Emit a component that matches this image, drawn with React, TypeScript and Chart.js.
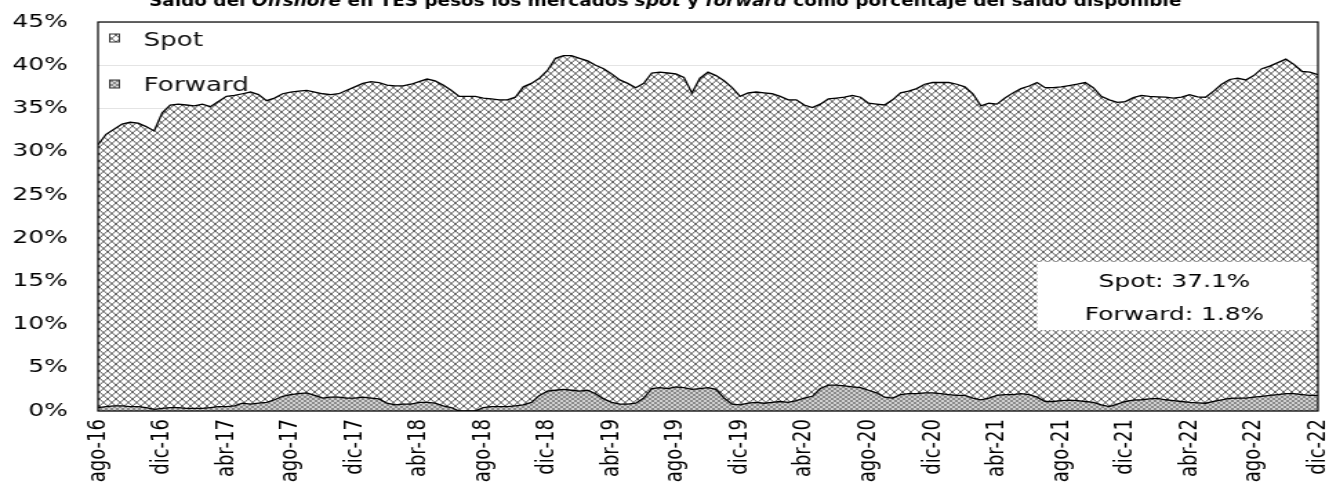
import React, { useEffect, useRef } from 'react';
import { Chart, registerables } from 'chart.js';

Chart.register(...registerables);

// Internal drawing width; the canvas is shown stretched to 1329 CSS px (like the reference)
const CANVAS_W = 963;
const CANVAS_H = 483;
const FONT = 'DejaVu Sans';

// Tick labels every 4 months, starting Aug-2016 (month 0) to Dec-2022 (month 76)
const xTickLabels = [
  'ago-16', 'dic-16', 'abr-17', 'ago-17', 'dic-17', 'abr-18', 'ago-18', 'dic-18', 'abr-19', 'ago-19',
  'dic-19', 'abr-20', 'ago-20', 'dic-20', 'abr-21', 'ago-21', 'dic-21', 'abr-22', 'ago-22', 'dic-22',
];

// Half-monthly observations (month 0, 0.5, 1, ... 76), % of available balance
const spotValues = [
  30.4, 31.5, 32.0, 32.6, 32.9, 32.8, 32.5, 32.2,
  34.2, 35.0, 35.1, 35.1, 35.0, 35.2, 34.8, 35.3,
  35.9, 35.9, 35.8, 36.1, 35.7, 34.9, 34.9, 35.0,
  35.0, 35.0, 35.0, 35.1, 35.2, 35.0, 35.1, 35.6,
  36.0, 36.3, 36.6, 36.6, 36.8, 36.9, 36.8, 37.0,
  37.1, 37.4, 37.3, 37.1, 36.7, 36.4, 36.4, 36.4,
  35.8, 35.6, 35.5, 35.5, 35.7, 36.8, 36.9, 36.7,
  37.1, 38.4, 38.6, 38.7, 38.5, 38.1, 38.0, 38.2,
  38.0, 37.5, 37.1, 36.5, 36.4, 36.5, 36.5, 36.5,
  36.2, 35.9, 34.3, 35.9, 36.5, 36.3, 36.7, 36.6,
  35.7, 35.9, 35.9, 35.9, 35.7, 35.3, 35.0, 34.8,
  33.9, 33.4, 32.9, 33.1, 33.2, 33.4, 33.7, 33.6,
  33.2, 33.4, 33.8, 34.5, 34.9, 35.0, 35.3, 35.7,
  35.9, 36.0, 36.1, 36.0, 35.7, 35.2, 34.0, 34.1,
  33.7, 34.3, 34.9, 35.3, 35.7, 36.4, 36.3, 36.3,
  36.3, 36.4, 36.6, 36.9, 36.4, 35.7, 35.5, 34.9,
  34.7, 35.0, 35.2, 35.0, 34.9, 35.0, 35.0, 35.2,
  35.6, 35.4, 35.4, 35.9, 36.5, 36.9, 37.0, 36.8,
  37.2, 37.9, 38.1, 38.4, 38.7, 38.1, 37.4, 37.4,
  37.1,
];

const forwardValues = [
  0.4, 0.5, 0.6, 0.6, 0.5, 0.5, 0.4, 0.2,
  0.3, 0.4, 0.4, 0.3, 0.3, 0.3, 0.4, 0.5,
  0.5, 0.6, 0.9, 0.8, 0.9, 1.0, 1.3, 1.7,
  1.9, 2.0, 2.1, 1.8, 1.5, 1.6, 1.6, 1.5,
  1.5, 1.6, 1.5, 1.4, 0.9, 0.7, 0.8, 0.8,
  1.0, 1.0, 0.9, 0.6, 0.4, 0.0, 0.0, 0.0,
  0.4, 0.5, 0.5, 0.5, 0.6, 0.7, 1.0, 1.8,
  2.3, 2.4, 2.5, 2.4, 2.3, 2.4, 2.0, 1.4,
  1.0, 0.8, 0.8, 0.9, 1.5, 2.6, 2.7, 2.6,
  2.8, 2.7, 2.5, 2.6, 2.7, 2.5, 1.5, 0.8,
  0.7, 0.9, 1.0, 0.9, 1.0, 1.1, 1.0, 1.2,
  1.5, 1.7, 2.6, 3.0, 3.0, 2.9, 2.8, 2.7,
  2.4, 2.1, 1.6, 1.5, 1.9, 2.0, 2.0, 2.1,
  2.1, 2.0, 1.9, 1.8, 1.8, 1.5, 1.3, 1.5,
  1.8, 1.9, 1.9, 2.0, 1.9, 1.6, 1.1, 1.1,
  1.2, 1.25, 1.2, 1.1, 1.0, 0.7, 0.5, 0.8,
  1.1, 1.25, 1.3, 1.4, 1.45, 1.3, 1.2, 1.1,
  1.0, 0.95, 0.9, 1.1, 1.3, 1.45, 1.5, 1.5,
  1.6, 1.7, 1.8, 1.9, 2.0, 2.0, 1.9, 1.8,
  1.8,
];

const seriesNames = ['Spot', 'Forward'];
const annotationLines = ['Spot: 37.1%', 'Forward: 1.8%'];
const titleParts = [
  { text: 'Saldo del ', italic: false },
  { text: 'Offshore', italic: true },
  { text: ' en TES pesos los mercados ', italic: false },
  { text: 'spot', italic: true },
  { text: ' y ', italic: false },
  { text: 'forward', italic: true },
  { text: ' como porcentaje del saldo disponible', italic: false },
];

function makeHatch(): CanvasPattern | string {
  const w = 6, h = 7;
  const c = document.createElement('canvas');
  c.width = w; c.height = h;
  const g = c.getContext('2d');
  if (!g) return '#ccc';
  g.fillStyle = '#ffffff';
  g.fillRect(0, 0, w, h);
  g.strokeStyle = '#333333';
  g.lineWidth = 0.8;
  g.beginPath();
  for (const dx of [-w, 0, w]) {
    g.moveTo(dx, 0); g.lineTo(dx + w, h);
    g.moveTo(dx, h); g.lineTo(dx + w, 0);
  }
  g.stroke();
  return g.createPattern(c, 'repeat') as CanvasPattern;
}

function makeChecker(): CanvasPattern | string {
  const c = document.createElement('canvas');
  c.width = 4; c.height = 4;
  const g = c.getContext('2d');
  if (!g) return '#aaa';
  g.fillStyle = '#d0d0d0';
  g.fillRect(0, 0, 4, 4);
  g.fillStyle = '#8a8a8a';
  g.fillRect(0, 0, 2, 2);
  g.fillRect(2, 2, 2, 2);
  return g.createPattern(c, 'repeat') as CanvasPattern;
}

export default function App() {
  const canvasRef = useRef<HTMLCanvasElement | null>(null);

  useEffect(() => {
    document.body.style.margin = '0';
    const canvas = canvasRef.current;
    if (!canvas) return;
    const hatch = makeHatch();
    const checker = makeChecker();

    const decor = {
      id: 'decor',
      afterDatasetsDraw(chart: any) {
        const { ctx, chartArea: a } = chart;
        ctx.save();
        // plot frame
        ctx.strokeStyle = '#000';
        ctx.lineWidth = 1.2;
        ctx.strokeRect(a.left, a.top, a.right - a.left, a.bottom - a.top);

        // legend (inside plot area)
        const fills = [hatch, checker];
        const iconY = [34, 80];
        const textY = [46, 91];
        ctx.font = `19px "${FONT}"`;
        ctx.textBaseline = 'alphabetic';
        ctx.textAlign = 'left';
        seriesNames.forEach((name, i) => {
          ctx.fillStyle = fills[i];
          ctx.fillRect(79.5, iconY[i], 7, 8);
          ctx.strokeStyle = '#333';
          ctx.lineWidth = 1;
          ctx.strokeRect(79.5, iconY[i], 7, 8);
          ctx.fillStyle = '#111';
          ctx.fillText(name, 104, textY[i]);
        });

        // annotation box
        ctx.fillStyle = '#ffffff';
        ctx.fillRect(751.5, 262, 199, 68);
        ctx.fillStyle = '#000';
        ctx.font = `18px "${FONT}"`;
        ctx.textAlign = 'center';
        ctx.fillText(annotationLines[0], 851, 287);
        ctx.fillText(annotationLines[1], 851, 320);
        ctx.restore();
      },
      afterDraw(chart: any) {
        const { ctx } = chart;
        ctx.save();
        ctx.fillStyle = '#000';
        ctx.textBaseline = 'alphabetic';
        ctx.textAlign = 'left';
        const fonts = titleParts.map(p => `${p.italic ? 'italic ' : ''}bold 15px "${FONT}"`);
        const widths = titleParts.map((p, i) => { ctx.font = fonts[i]; return ctx.measureText(p.text).width; });
        const total = widths.reduce((s, w) => s + w, 0);
        const targetW = 748;
        ctx.translate(482 - targetW / 2, 5.5);
        ctx.scale(targetW / total, 1);
        let x = 0;
        titleParts.forEach((p, i) => {
          ctx.font = fonts[i];
          ctx.fillText(p.text, x, 0);
          x += widths[i];
        });
        ctx.restore();
      },
    };

    const chart = new Chart(canvas, {
      type: 'line',
      data: {
        datasets: [
          {
            label: seriesNames[1],
            data: forwardValues.map((v, i) => ({ x: i * 0.5, y: v })),
            fill: 'origin',
            backgroundColor: checker as any,
            borderColor: '#000',
            borderWidth: 1.3,
            pointRadius: 0,
            tension: 0,
          },
          {
            label: seriesNames[0],
            data: spotValues.map((v, i) => ({ x: i * 0.5, y: v })),
            fill: '-1',
            backgroundColor: hatch as any,
            borderColor: '#000',
            borderWidth: 1.3,
            pointRadius: 0,
            tension: 0,
          },
        ],
      },
      options: {
        responsive: false,
        devicePixelRatio: 1,
        animation: false,
        events: [],
        layout: { padding: { top: 22, right: 8, left: 0, bottom: 0 } },
        plugins: {
          legend: { display: false },
          title: { display: false },
          tooltip: { enabled: false },
        },
        scales: {
          x: {
            type: 'linear',
            min: 0,
            max: 76,
            afterFit: (s: any) => { s.height = 72; s.paddingLeft = 0; s.paddingRight = 0; },
            grid: { display: false, drawTicks: false },
            border: { display: false },
            ticks: {
              stepSize: 4,
              autoSkip: false,
              minRotation: 90,
              maxRotation: 90,
              padding: 8,
              color: '#000',
              font: { family: FONT, size: 18 },
              callback: (v: any) => xTickLabels[Math.round(Number(v) / 4)] ?? '',
            },
          },
          y: {
            stacked: true,
            min: 0,
            max: 45,
            afterFit: (s: any) => { s.width = 71; s.paddingTop = 0; s.paddingBottom = 0; },
            grid: { color: '#e4e4e4', drawTicks: false, lineWidth: 1 },
            border: { display: false },
            ticks: {
              stepSize: 5,
              padding: 22,
              color: '#000',
              font: { family: FONT, size: 18 },
              callback: (v: any) => `${v}%`,
            },
          },
        },
      },
      plugins: [decor],
    });

    return () => chart.destroy();
  }, []);

  return (
    <div style={{ width: 1329, height: CANVAS_H, overflow: 'hidden', background: '#fff' }}>
      <canvas
        ref={canvasRef}
        width={CANVAS_W}
        height={CANVAS_H}
        style={{ width: '1329px', height: `${CANVAS_H}px`, display: 'block' }}
      />
    </div>
  );
}
